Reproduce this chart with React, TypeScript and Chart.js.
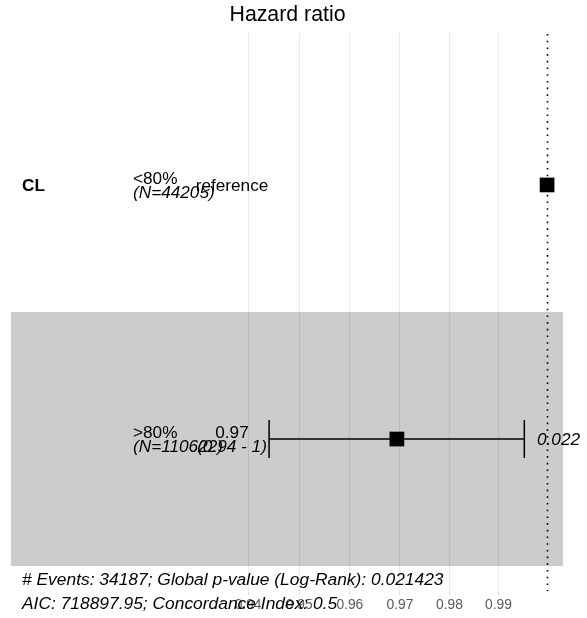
import React, { useEffect, useRef } from "react";
import { Chart, registerables } from "chart.js";

Chart.register(...registerables);

const variableName = "CL";
const categories = ["<80%", ">80%"];
const nObs = [44205, 110622];
const hazardRatios = [1, 0.9694];
const ciLow: (number | null)[] = [null, 0.9441];
const ciHigh: (number | null)[] = [null, 0.9953];
const estimateLabels = ["reference", "0.97"];
const ciLabels = ["", "(0.94 - 1)"];
const pValueLabels = ["", "0.022"];
const tickValues = [0.94, 0.95, 0.96, 0.97, 0.98, 0.99];
const footerLines = [
  "# Events: 34187; Global p-value (Log-Rank): 0.021423",
  "AIC: 718897.95; Concordance Index: 0.5",
];
const titleText = "Hazard ratio";
const xMin = 0.895;
const xMax = 1.0033;

const FONT = "'Liberation Sans', Arial, Helvetica, sans-serif";
const TXT = 17.2;

const forestPlugin = {
  id: "forest",
  beforeDraw(chart: any) {
    const { ctx, chartArea } = chart;
    const y = chart.scales.y;
    ctx.save();
    categories.forEach((_, i) => {
      if (i % 2 === 1) {
        const top = y.getPixelForValue(i + 0.5);
        const bottom = y.getPixelForValue(i + 1.5);
        ctx.fillStyle = "#cccccc";
        ctx.fillRect(chartArea.left, top, chartArea.right - chartArea.left, bottom - top);
      }
    });
    ctx.restore();
  },
  beforeDatasetsDraw(chart: any) {
    const { ctx, chartArea } = chart;
    const x = chart.scales.x;
    const y = chart.scales.y;
    ctx.save();
    const x1 = Math.round(x.getPixelForValue(1)) + 0.5;
    ctx.strokeStyle = "#000";
    ctx.lineWidth = 1.6;
    ctx.setLineDash([1.6, 5.1]);
    ctx.beginPath();
    ctx.moveTo(x1, chartArea.top + 1);
    ctx.lineTo(x1, chartArea.bottom - 1);
    ctx.stroke();
    ctx.setLineDash([]);
    ctx.lineWidth = 1.5;
    categories.forEach((_, i) => {
      const lo = ciLow[i];
      const hi = ciHigh[i];
      if (lo == null || hi == null) return;
      const yy = y.getPixelForValue(i + 1);
      const xl = x.getPixelForValue(lo);
      const xh = x.getPixelForValue(hi);
      const capTop = y.getPixelForValue(i + 1 - 0.075);
      const capBot = y.getPixelForValue(i + 1 + 0.075);
      ctx.beginPath();
      ctx.moveTo(xl, yy);
      ctx.lineTo(xh, yy);
      ctx.moveTo(xl, capTop);
      ctx.lineTo(xl, capBot);
      ctx.moveTo(xh, capTop);
      ctx.lineTo(xh, capBot);
      ctx.stroke();
    });
    ctx.restore();
  },
  afterDraw(chart: any) {
    const { ctx, chartArea } = chart;
    const y = chart.scales.y;
    const left = chartArea.left;
    ctx.save();
    ctx.fillStyle = "#000";
    ctx.textAlign = "center";
    ctx.textBaseline = "middle";
    ctx.font = `21.3px ${FONT}`;
    ctx.fillText(titleText, chart.width / 2 - 6, 15);

    ctx.textAlign = "left";
    ctx.font = `bold ${TXT}px ${FONT}`;
    ctx.fillText(variableName, left + 11, y.getPixelForValue(1) + 1);

    categories.forEach((cat, i) => {
      const yy = y.getPixelForValue(i + 1);
      ctx.textAlign = "left";
      ctx.font = `${TXT}px ${FONT}`;
      ctx.fillText(cat, left + 122, yy - 6);
      ctx.font = `italic ${TXT}px ${FONT}`;
      ctx.fillText(`(N=${nObs[i]})`, left + 122, yy + 8);
      ctx.textAlign = "center";
      ctx.font = `${TXT}px ${FONT}`;
      if (ciLabels[i]) {
        ctx.fillText(estimateLabels[i], left + 221, yy - 6);
        ctx.font = `italic ${TXT}px ${FONT}`;
        ctx.fillText(ciLabels[i], left + 221, yy + 8);
      } else {
        ctx.fillText(estimateLabels[i], left + 221, yy + 1);
      }
      if (pValueLabels[i]) {
        ctx.textAlign = "left";
        ctx.font = `italic ${TXT}px ${FONT}`;
        ctx.fillText(pValueLabels[i], left + 526, yy + 1);
      }
    });

    ctx.textAlign = "left";
    ctx.font = `italic 17.4px ${FONT}`;
    ctx.fillText(footerLines[0], left + 11, 580);
    ctx.fillText(footerLines[1], left + 11, 604);
    ctx.restore();
  },
};

export default function App() {
  const ref = useRef<HTMLCanvasElement>(null);
  useEffect(() => {
    if (!ref.current) return;
    const chart = new Chart(ref.current, {
      type: "scatter",
      data: {
        datasets: [
          {
            data: hazardRatios.map((v, i) => ({ x: v, y: i + 1 })),
            backgroundColor: "#000",
            borderColor: "#000",
            pointStyle: "rect",
            pointRadius: 10.4,
            pointHoverRadius: 10.4,
            borderWidth: 0,
          },
        ],
      },
      options: {
        animation: false,
        responsive: false,
        events: [],
        layout: { padding: { left: 11, right: 24, top: 33, bottom: 0 } },
        plugins: {
          legend: { display: false },
          tooltip: { enabled: false },
          title: { display: false },
        },
        scales: {
          x: {
            type: "logarithmic",
            bounds: "data",
            min: xMin,
            max: xMax,
            afterBuildTicks: (scale: any) => {
              scale.ticks = tickValues.map((v) => ({ value: v }));
              scale.min = xMin;
              scale.max = xMax;
            },
            afterFit: (scale: any) => {
              scale.height = 26;
            },
            ticks: {
              autoSkip: false,
              maxRotation: 0,
              padding: 2,
              color: "#5a5a5a",
              font: { family: FONT, size: 13.8 },
              callback: (v: any) => Number(v).toFixed(2),
            },
            grid: {
              color: "rgba(0,0,0,0.08)",
              lineWidth: 1,
              drawTicks: true,
              tickLength: 3,
              tickColor: "rgba(0,0,0,0.15)",
            },
            border: { display: false },
          },
          y: {
            type: "linear",
            display: false,
            reverse: true,
            min: 0.402,
            max: 2.602,
          },
        },
      },
      plugins: [forestPlugin],
    });
    return () => chart.destroy();
  }, []);
  return (
    <div style={{ position: "absolute", left: 0, top: 0, width: 587, height: 618, background: "#fff" }}>
      <canvas ref={ref} width={587} height={618} />
    </div>
  );
}
